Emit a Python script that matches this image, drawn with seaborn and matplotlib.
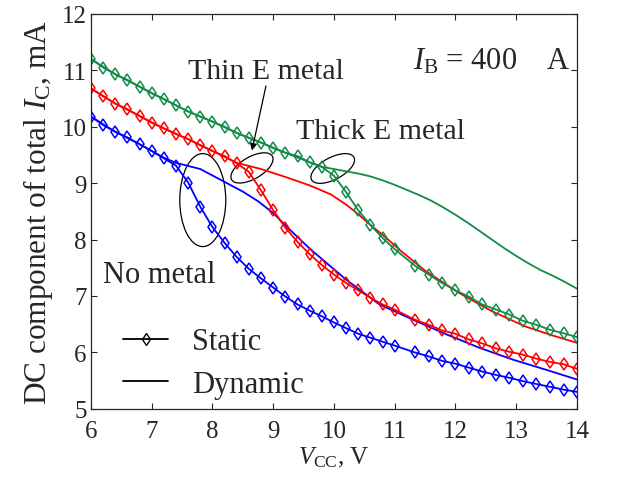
import numpy as np
import matplotlib
matplotlib.use("Agg")
import matplotlib.pyplot as plt
import matplotlib.transforms as mtransforms
from matplotlib.patches import Ellipse
from matplotlib.lines import Line2D
import seaborn as sns

sns.set_style("ticks")
plt.rcParams['font.family'] = ['Liberation Serif', 'DejaVu Serif']
plt.rcParams['mathtext.fontset'] = 'custom'
plt.rcParams['mathtext.rm'] = 'Liberation Serif'
plt.rcParams['mathtext.it'] = 'Liberation Serif:italic'

# static points (V_CC, V)
x_static = [6.0, 6.2, 6.4, 6.6, 6.8, 7.0, 7.2, 7.4, 7.6, 7.8, 8.0, 8.2, 8.4, 8.6, 8.8,
            9.0, 9.2, 9.4, 9.6, 9.8, 10.0, 10.2, 10.4, 10.6, 10.8, 11.0,
            11.33, 11.56, 11.78, 12.0, 12.22, 12.44, 12.67, 12.89, 13.11, 13.33, 13.56, 13.78, 14.0]
no_metal_static = [10.18, 10.03, 9.91, 9.81, 9.69, 9.57, 9.44, 9.31, 9.01, 8.58, 8.22, 7.94, 7.69, 7.48, 7.31,
                   7.15, 6.99, 6.85, 6.74, 6.64, 6.53, 6.43, 6.33, 6.26, 6.19, 6.12,
                   6.00, 5.93, 5.85, 5.80, 5.73, 5.66, 5.60, 5.55, 5.49, 5.44, 5.39, 5.34, 5.30]
thin_static = [10.68, 10.54, 10.41, 10.31, 10.19, 10.07, 9.97, 9.87, 9.78, 9.67, 9.57, 9.48, 9.35, 9.20, 8.87,
               8.52, 8.21, 7.96, 7.74, 7.55, 7.38, 7.23, 7.10, 6.97, 6.85, 6.76,
               6.58, 6.49, 6.39, 6.33, 6.23, 6.16, 6.07, 6.01, 5.96, 5.89, 5.83, 5.79, 5.71]
thick_static = [11.20, 11.05, 10.93, 10.83, 10.71, 10.59, 10.49, 10.38, 10.27, 10.18, 10.09, 10.00, 9.89, 9.80, 9.72,
                9.62, 9.54, 9.48, 9.37, 9.29, 9.13, 8.84, 8.52, 8.26, 8.03, 7.83,
                7.54, 7.38, 7.23, 7.10, 6.99, 6.85, 6.76, 6.67, 6.56, 6.49, 6.40, 6.34, 6.27]

# dynamic curves
x_no_dyn = [6.0, 6.4, 6.8, 7.2, 7.4, 7.8, 8.15, 8.5, 8.75, 9.0, 9.25, 9.6, 10.2, 10.75, 11.3,
            11.85, 12.4, 12.95, 13.5, 14.0]
no_metal_dyn = [10.18, 9.91, 9.69, 9.45, 9.36, 9.25, 9.05, 8.85, 8.68, 8.47, 8.20, 7.84, 7.29, 6.85, 6.58,
                6.32, 6.08, 5.87, 5.69, 5.52]
x_thin_dyn = [6.0, 6.4, 6.8, 7.2, 7.6, 8.0, 8.4, 8.8, 9.2, 9.6, 9.95, 10.2, 10.4, 10.6, 10.85,
              11.1, 11.5, 12.05, 12.6, 13.15, 13.6, 14.0]
thin_dyn = [10.68, 10.41, 10.19, 9.97, 9.78, 9.57, 9.36, 9.25, 9.11, 8.96, 8.80, 8.62, 8.45, 8.26, 8.04,
            7.80, 7.45, 7.06, 6.73, 6.46, 6.30, 6.17]
x_thick_dyn = [6.0, 6.4, 6.8, 7.2, 7.6, 8.0, 8.4, 8.8, 9.2, 9.6, 9.8, 10.0, 10.2, 10.4, 10.6,
               10.8, 11.0, 11.2, 11.4, 11.6, 11.8, 12.0, 12.2, 12.4, 12.6, 12.8, 13.0, 13.2, 13.4,
               13.6, 13.8, 14.0]
thick_dyn = [11.20, 10.93, 10.71, 10.49, 10.27, 10.09, 9.89, 9.72, 9.54, 9.37, 9.29, 9.25, 9.21, 9.17, 9.12,
             9.05, 8.97, 8.88, 8.79, 8.69, 8.57, 8.44, 8.30, 8.15, 8.00, 7.85, 7.71, 7.58, 7.46,
             7.36, 7.25, 7.13]

blue, red, green = '#0000ff', '#ff0000', '#148a48'

fig = plt.figure(figsize=(6.17, 4.81), dpi=100)
ax = fig.add_axes([0.1475, 0.148, 0.7875, 0.821])

for xd, yd, c in [(x_no_dyn, no_metal_dyn, blue), (x_thin_dyn, thin_dyn, red), (x_thick_dyn, thick_dyn, green)]:
    sns.lineplot(x=xd, y=yd, color=c, lw=1.3, ax=ax, sort=False)
for ys, c in [(no_metal_static, blue), (thin_static, red), (thick_static, green)]:
    sns.lineplot(x=x_static, y=ys, color=c, lw=1.3, marker='d', markersize=6.5,
                 markerfacecolor='none', markeredgecolor=c, markeredgewidth=1.1, ax=ax, sort=False)

ax.set_xlim(6, 14)
ax.set_ylim(5, 12)
ax.set_xticks(range(6, 15))
ax.set_yticks(range(5, 13))
ax.tick_params(direction='in', top=True, right=True, labelsize=18, length=4, width=0.8, pad=3)
ax.tick_params(axis='x', pad=8)
for s in ax.spines.values():
    s.set_linewidth(0.9)
    s.set_visible(True)
ax.set_xlabel(r'$V_\mathrm{CC}$, V', fontsize=18, labelpad=2)
ax.set_ylabel(r'DC component of total $I_\mathrm{C}$, mA', fontsize=22.5, labelpad=5)

# ellipses drawn in inches around a data-space center
def ring(cx, cy, w, h, ang):
    tr = fig.dpi_scale_trans + mtransforms.ScaledTranslation(cx, cy, ax.transData)
    ax.add_patch(Ellipse((0, 0), w, h, angle=ang, transform=tr, fill=False, ec='black', lw=0.9))

ring(7.84, 8.70, 0.46, 0.93, 0)
ring(8.65, 9.27, 0.47, 0.22, 30)
ring(9.98, 9.26, 0.48, 0.22, 28)

ax.text(8.88, 10.99, 'Thin E metal', fontsize=21.5, ha='center', va='center')
ax.text(10.76, 9.93, 'Thick E metal', fontsize=21.5, ha='center', va='center')
ax.text(6.2, 7.38, 'No metal', fontsize=22, ha='left', va='center')
ax.text(12.6, 11.17, r'$I_\mathrm{B}$ = 400    A', fontsize=22, ha='center', va='center')
ax.annotate('', xy=(8.64, 9.53), xytext=(8.89, 10.77),
            arrowprops=dict(arrowstyle='-|>', color='black', lw=0.9, mutation_scale=10))

handles = [Line2D([], [], color='black', lw=1.3, marker='d', markersize=6.5, markerfacecolor='none'),
           Line2D([], [], color='black', lw=1.3)]
ax.legend(handles, ['Static', 'Dynamic'], loc='lower left', bbox_to_anchor=(0.01, -0.045),
          frameon=False, fontsize=22, handlelength=1.45, handletextpad=0.8, labelspacing=0.45)

fig.savefig('out.png', dpi=100)
